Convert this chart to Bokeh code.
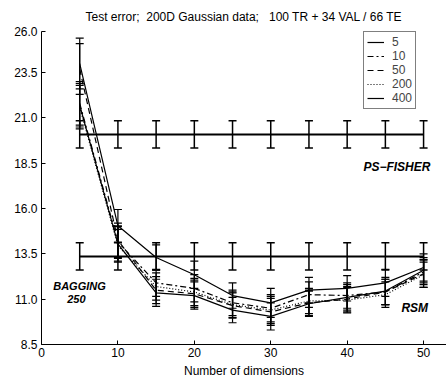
from bokeh.plotting import figure
from bokeh.models import (ColumnDataSource, Whisker, TeeHead, FixedTicker, Legend, LegendItem,
                          Range1d)
from bokeh.core.properties import value
from bokeh.embed import file_html
from bokeh.resources import INLINE

# ---- data ----
dims = [5, 10, 15, 20, 25, 30, 35, 40, 45, 50]
series_names = ["5", "10", "50", "200", "400"]
rsm_5 = [24.0, 15.05, 13.3, 12.35, 11.2, 10.8, 11.5, 11.6, 11.9, 12.75]
rsm_10 = [21.8, 14.15, 11.9, 11.6, 10.8, 10.5, 11.25, 11.2, 11.4, 12.5]
rsm_50 = [23.7, 14.25, 11.5, 11.3, 10.65, 10.3, 10.8, 11.0, 11.4, 12.4]
rsm_200 = [21.6, 13.95, 11.7, 11.4, 10.7, 10.4, 10.9, 10.95, 11.25, 12.35]
rsm_400 = [21.7, 14.05, 11.35, 11.2, 10.4, 10.05, 10.75, 11.1, 11.45, 12.6]
err_5 = [1.4, 0.9, 0.7, 0.75, 0.7, 0.8, 0.7, 0.7, 0.75, 0.75]
err_10 = [1.2, 0.9, 0.75, 0.75, 0.7, 0.75, 0.7, 0.7, 0.7, 0.7]
err_50 = [1.4, 0.95, 0.75, 0.75, 0.7, 0.75, 0.7, 0.7, 0.7, 0.75]
err_200 = [1.2, 0.9, 0.75, 0.75, 0.7, 0.75, 0.7, 0.7, 0.7, 0.7]
err_400 = [1.2, 0.95, 0.75, 0.75, 0.7, 0.75, 0.7, 0.7, 0.75, 0.7]
ps_fisher_mean = 20.09
ps_fisher_err = 0.75
bagging_mean = 13.36
bagging_err = 0.75
y_top = 25.77
y_ticks = [8.5, 11.0, 13.5, 16.0, 18.5, 21.0, 23.5, y_top]
y_tick_labels = ["8.5", "11.0", "13.5", "16.0", "18.5", "21.0", "23.5", "26.0"]
x_ticks = [0, 10, 20, 30, 40, 50]

FONT = "Liberation Sans"
NB = "\u00a0"

p = figure(width=446, height=383, output_backend="svg", toolbar_location=None,
           x_range=Range1d(0, 53.0), y_range=Range1d(8.5, y_top),
           min_border_left=41, min_border_right=0, min_border_top=31, min_border_bottom=39)
p.title.text = f"Test error;{NB}{NB}200D Gaussian data;{NB}{NB}{NB}100 TR + 34 VAL / 66 TE"
p.title.text_font = FONT
p.title.text_font_size = "12px"
p.title.text_font_style = "normal"
p.title.text_color = "black"
p.title.align = "center"
p.title.standoff = 15
p.outline_line_color = None
p.grid.visible = False
p.background_fill_color = "white"

for ax in (p.xaxis[0], p.yaxis[0]):
    ax.major_tick_in = 4
    ax.major_tick_out = 0
    ax.minor_tick_in = 0
    ax.minor_tick_out = 0
    ax.axis_line_color = "black"
    ax.axis_line_width = 1
    ax.major_tick_line_color = "black"
    ax.major_label_text_font = FONT
    ax.major_label_text_font_size = "12px"
    ax.major_label_text_color = "black"
p.yaxis[0].ticker = FixedTicker(ticks=y_ticks)
p.yaxis[0].major_label_overrides = {t: s for t, s in zip(y_ticks, y_tick_labels)}
p.yaxis[0].major_label_standoff = 4
p.xaxis[0].ticker = FixedTicker(ticks=x_ticks)
p.xaxis[0].major_label_standoff = 3
p.xaxis[0].axis_label = "Number of dimensions"
p.xaxis[0].axis_label_text_font = FONT
p.xaxis[0].axis_label_text_font_size = "12px"
p.xaxis[0].axis_label_text_font_style = "normal"
p.xaxis[0].axis_label_text_color = "black"
p.xaxis[0].axis_label_standoff = 4

def add_whisker(xs, ys, es, width):
    src = ColumnDataSource(dict(x=xs, lo=[y - e for y, e in zip(ys, es)], hi=[y + e for y, e in zip(ys, es)]))
    w = Whisker(source=src, base="x", lower="lo", upper="hi", line_color="black", line_width=width,
                upper_head=TeeHead(size=8, line_color="black", line_width=width),
                lower_head=TeeHead(size=8, line_color="black", line_width=width))
    p.add_layout(w)

# reference lines
for mean, err in ((ps_fisher_mean, ps_fisher_err), (bagging_mean, bagging_err)):
    ys = [mean] * len(dims)
    p.line(dims, ys, line_color="black", line_width=2)
    add_whisker(dims, ys, [err] * len(dims), 1.5)

styles = ["solid", "dashdot", "dashed", "dotted", "solid"]
dash_map = {"solid": "solid", "dashdot": "6 3 2 3", "dashed": "6 4", "dotted": "1 2"}
all_series = [rsm_5, rsm_10, rsm_50, rsm_200, rsm_400]
all_err = [err_5, err_10, err_50, err_200, err_400]
items = []
for name, ys, es, st in zip(series_names, all_series, all_err, styles):
    r = p.line(dims, ys, line_color="black", line_width=1.2, line_dash=dash_map[st])
    add_whisker(dims, ys, es, 1.2)
    items.append(LegendItem(label=name, renderers=[r]))

legend = Legend(items=items, location=(322, 235), border_line_color="black", border_line_width=1.5,
                label_text_font=FONT, label_text_font_size="12px", glyph_width=17, glyph_height=14,
                label_height=14, spacing=0, padding=3, margin=0, label_standoff=8,
                background_fill_alpha=1)
p.add_layout(legend, "center")

def add_text(x, y, txt, align, size):
    p.text(x=[x], y=[y], text=[txt], text_align=align, text_baseline="middle",
           text_font=value(FONT), text_font_size=size, text_font_style="bold italic",
           text_color="black")

add_text(50.9, 18.27, "PS\u2212FISHER", "right", "12px")
add_text(1.53, 11.73, "BAGGING", "left", "11px")
add_text(3.36, 11.01, "250", "left", "11px")
add_text(47.1, 10.54, "RSM", "left", "12px")

open("out.html", "w").write(file_html(p, INLINE))
